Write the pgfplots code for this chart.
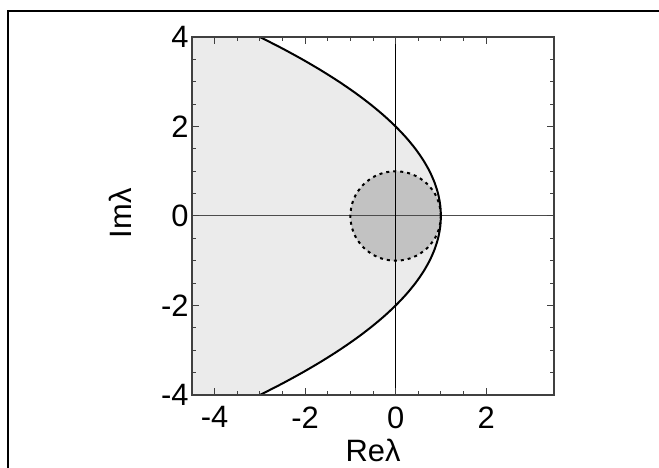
\documentclass[border=0pt]{standalone}
\usepackage{fontspec}
\setmainfont{Liberation Sans}
\usepackage{pgfplots}
\pgfplotsset{compat=1.18}

\begin{document}
\begin{tikzpicture}[x=1bp,y=1bp]
\path[use as bounding box] (0,0) rectangle (659,468);
% outer frame (cut by the page on the right and bottom)
\draw[line width=2.5bp] (8,-20) -- (8,457) -- (700,457);
\begin{axis}[
  at={(192bp,73bp)}, anchor=south west,
  scale only axis, width=362bp, height=358bp,
  xmin=-4.5, xmax=3.5, ymin=-4, ymax=4,
  xtick={-4,-2,0,2}, ytick={-4,-2,0,2,4},
  minor tick num=3,
  tick align=inside,
  major tick length=7bp, minor tick length=4bp,
  axis on top,
  axis line style={black!75, line width=1.5bp},
  tick style={black!75, line width=1bp},
  /pgf/number format/assume math mode=true,
  ticklabel style={font=\fontsize{31}{36}\selectfont},
  label style={font=\fontsize{31}{36}\selectfont},
  xticklabel style={yshift=-8bp},
  xlabel={Reλ}, ylabel={Imλ},
  xlabel style={at={(axis description cs:0.5,-0.154)}, anchor=center},
  ylabel style={at={(axis description cs:-0.199,0.508)}, anchor=center},
]
% stable region left of the parabola
\addplot[fill=black!8, draw=none] coordinates {
  (-4.5,4) (-3,4) (-2.515625,3.75) (-2.0625,3.5) (-1.640625,3.25) (-1.25,3)
  (-0.890625,2.75) (-0.5625,2.5) (-0.265625,2.25) (0,2) (0.234375,1.75)
  (0.4375,1.5) (0.609375,1.25) (0.75,1) (0.859375,0.75) (0.9375,0.5)
  (0.984375,0.25) (1,0) (0.984375,-0.25) (0.9375,-0.5) (0.859375,-0.75)
  (0.75,-1) (0.609375,-1.25) (0.4375,-1.5) (0.234375,-1.75) (0,-2)
  (-0.265625,-2.25) (-0.5625,-2.5) (-0.890625,-2.75) (-1.25,-3)
  (-1.640625,-3.25) (-2.0625,-3.5) (-2.515625,-3.75) (-3,-4) (-4.5,-4)
};
% unit disc
\addplot[fill=black!24, draw=none, smooth] coordinates {
  (1,0) (0.9659,0.2588) (0.8660,0.5) (0.7071,0.7071) (0.5,0.8660) (0.2588,0.9659)
  (0,1) (-0.2588,0.9659) (-0.5,0.8660) (-0.7071,0.7071) (-0.8660,0.5) (-0.9659,0.2588)
  (-1,0) (-0.9659,-0.2588) (-0.8660,-0.5) (-0.7071,-0.7071) (-0.5,-0.8660) (-0.2588,-0.9659)
  (0,-1) (0.2588,-0.9659) (0.5,-0.8660) (0.7071,-0.7071) (0.8660,-0.5) (0.9659,-0.2588)
  (1,0)
};
% coordinate axes
\addplot[black!70, line width=1bp] coordinates {(-4.5,0) (3.5,0)};
\addplot[black, line width=1bp] coordinates {(0,-4) (0,4)};
% parabola boundary
\addplot[black, line width=2bp, smooth] coordinates {
  (-3,4) (-2.515625,3.75) (-2.0625,3.5) (-1.640625,3.25) (-1.25,3)
  (-0.890625,2.75) (-0.5625,2.5) (-0.265625,2.25) (0,2) (0.234375,1.75)
  (0.4375,1.5) (0.609375,1.25) (0.75,1) (0.859375,0.75) (0.9375,0.5)
  (0.984375,0.25) (1,0) (0.984375,-0.25) (0.9375,-0.5) (0.859375,-0.75)
  (0.75,-1) (0.609375,-1.25) (0.4375,-1.5) (0.234375,-1.75) (0,-2)
  (-0.265625,-2.25) (-0.5625,-2.5) (-0.890625,-2.75) (-1.25,-3)
  (-1.640625,-3.25) (-2.0625,-3.5) (-2.515625,-3.75) (-3,-4)
};
% dashed circle boundary
\addplot[black, line width=2bp, dash pattern=on 3bp off 4bp, smooth] coordinates {
  (1,0) (0.9659,0.2588) (0.8660,0.5) (0.7071,0.7071) (0.5,0.8660) (0.2588,0.9659)
  (0,1) (-0.2588,0.9659) (-0.5,0.8660) (-0.7071,0.7071) (-0.8660,0.5) (-0.9659,0.2588)
  (-1,0) (-0.9659,-0.2588) (-0.8660,-0.5) (-0.7071,-0.7071) (-0.5,-0.8660) (-0.2588,-0.9659)
  (0,-1) (0.2588,-0.9659) (0.5,-0.8660) (0.7071,-0.7071) (0.8660,-0.5) (0.9659,-0.2588)
  (1,0)
};
\end{axis}
\end{tikzpicture}
\end{document}
